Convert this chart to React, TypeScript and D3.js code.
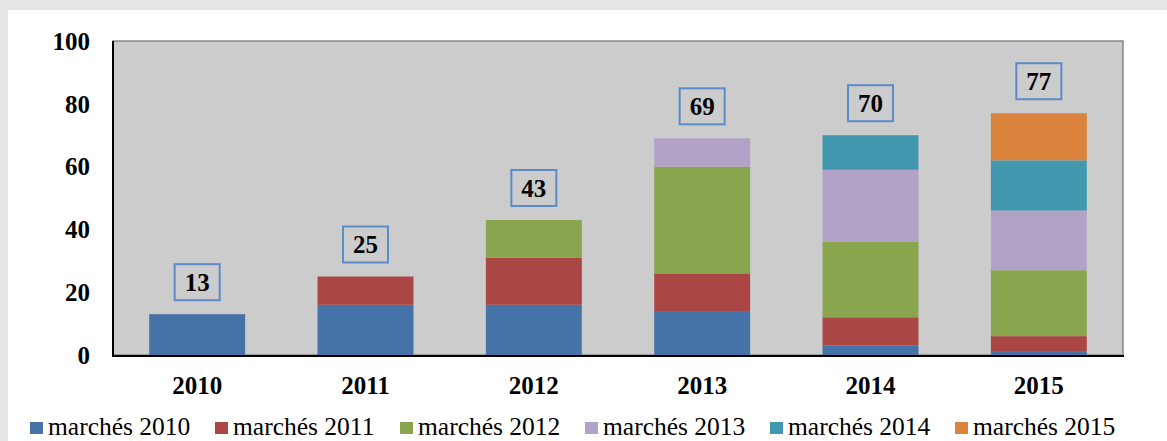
import React from "react";
import { scaleBand, scaleLinear, stack } from "d3";

const years = ["2010", "2011", "2012", "2013", "2014", "2015"];
const seriesNames = ["marchés 2010", "marchés 2011", "marchés 2012", "marchés 2013", "marchés 2014", "marchés 2015"];
const m2010 = [13, 16, 16, 14, 3, 1];
const m2011 = [0, 9, 15, 12, 9, 5];
const m2012 = [0, 0, 12, 34, 24, 21];
const m2013 = [0, 0, 0, 9, 23, 19];
const m2014 = [0, 0, 0, 0, 11, 16];
const m2015 = [0, 0, 0, 0, 0, 15];
const totals = [13, 25, 43, 69, 70, 77];
const yTicks = [0, 20, 40, 60, 80, 100];
const colors = ["#4572a7", "#aa4643", "#89a54e", "#b3a2c7", "#4198af", "#db843d"];

const W = 1167;
const H = 441;
const plot = { left: 113, right: 1123, top: 41, bottom: 355 };

const App = () => {
  const seriesValues = [m2010, m2011, m2012, m2013, m2014, m2015];
  const rows = years.map((y, i) => {
    const r: any = { year: y };
    seriesNames.forEach((s, k) => (r[s] = seriesValues[k][i]));
    return r;
  });
  const layers = stack().keys(seriesNames)(rows);

  const x = scaleBand()
    .domain(years)
    .range([plot.left, plot.right])
    .paddingInner(0.43)
    .paddingOuter(0.215);
  const y = scaleLinear().domain([0, 100]).range([plot.bottom, plot.top]);

  const serif = "'Liberation Serif', 'DejaVu Serif', serif";

  return (
    <svg width={W} height={H} style={{ position: "absolute", left: 0, top: 0 }}>
      <rect x={0} y={0} width={W} height={H} fill="#e6e6e6" />
      <rect x={8} y={10} width={W - 8} height={H - 10} fill="#ffffff" />

      {/* plot area */}
      <rect
        x={plot.left}
        y={plot.top}
        width={plot.right - plot.left}
        height={plot.bottom - plot.top}
        fill="#cccccc"
        stroke="#888888"
        strokeWidth={1.5}
      />

      {/* bars */}
      {layers.map((layer, k) => (
        <g key={layer.key} fill={colors[k]}>
          {layer.map((d, i) =>
            d[1] - d[0] > 0 ? (
              <rect
                key={i}
                x={x(years[i])}
                y={y(d[1])}
                width={x.bandwidth()}
                height={y(d[0]) - y(d[1])}
              />
            ) : null
          )}
        </g>
      ))}

      {/* axes lines */}
      <line x1={plot.left} x2={plot.left} y1={plot.top} y2={plot.bottom + 1} stroke="#000" strokeWidth={2} />
      <line x1={plot.left - 1} x2={plot.right + 1} y1={plot.bottom + 1} y2={plot.bottom + 1} stroke="#000" strokeWidth={2} />

      {/* y ticks */}
      {yTicks.map((t) => (
        <text
          key={t}
          x={plot.left - 23}
          y={y(t)}
          dy="0.35em"
          textAnchor="end"
          fontFamily={serif}
          fontWeight="bold"
          fontSize={25}
        >
          {t}
        </text>
      ))}

      {/* x labels */}
      {years.map((yr) => (
        <text
          key={yr}
          x={(x(yr) as number) + x.bandwidth() / 2}
          y={394}
          textAnchor="middle"
          fontFamily={serif}
          fontWeight="bold"
          fontSize={25}
        >
          {yr}
        </text>
      ))}

      {/* total labels */}
      {years.map((yr, i) => {
        const cx = (x(yr) as number) + x.bandwidth() / 2;
        const boxBottom = y(totals[i]) - 14;
        return (
          <g key={yr}>
            <rect
              x={cx - 22.5}
              y={boxBottom - 36}
              width={45}
              height={36}
              fill="none"
              stroke="#5b8bc9"
              strokeWidth={2}
            />
            <text
              x={cx}
              y={boxBottom - 18}
              dy="0.35em"
              textAnchor="middle"
              fontFamily={serif}
              fontWeight="bold"
              fontSize={25}
            >
              {totals[i]}
            </text>
          </g>
        );
      })}

      {/* legend */}
      {seriesNames.map((s, k) => (
        <g key={s} transform={`translate(${30 + k * 185},0)`}>
          <rect x={0} y={422} width={13} height={12} fill={colors[k]} />
          <text x={18} y={435} fontFamily={serif} fontSize={25.5} fill="#000">
            {s}
          </text>
        </g>
      ))}
    </svg>
  );
};

export default App;
